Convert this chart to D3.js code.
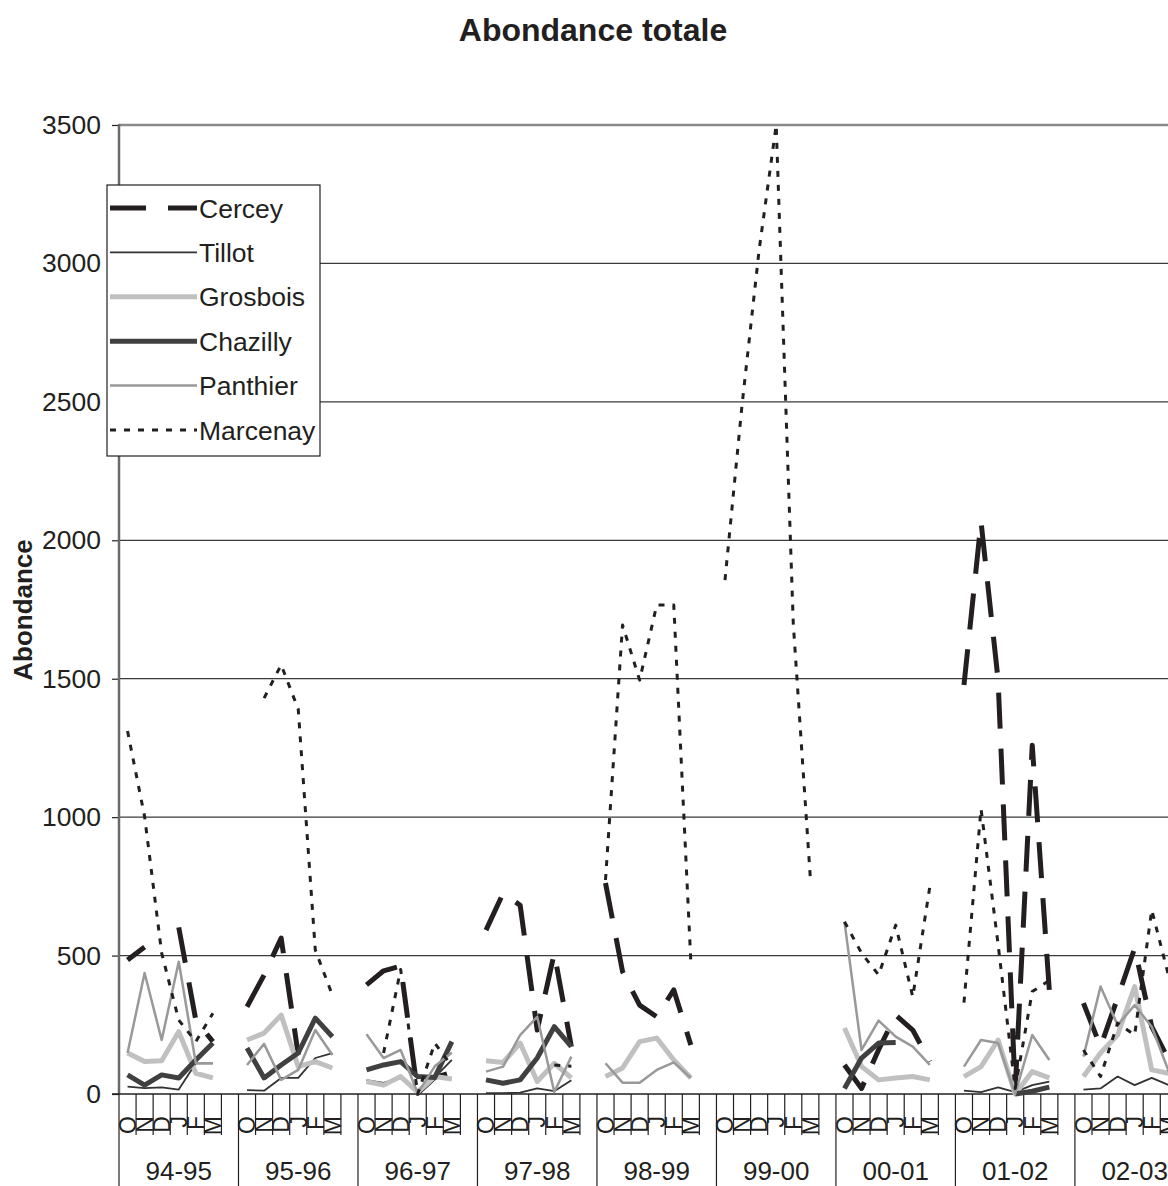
<!DOCTYPE html>
<html>
<head>
<meta charset="utf-8">
<script src="https://cdnjs.cloudflare.com/ajax/libs/d3/7.8.5/d3.min.js"></script>
<style>
  body { margin: 0; background: #fff; overflow: hidden; }
  svg { display: block; font-family: "Liberation Sans", Arial, sans-serif; }
</style>
</head>
<body>
<svg id="chart" width="1168" height="1186"></svg>
<script>
// categories
var years = ["94-95", "95-96", "96-97", "97-98", "98-99", "99-00", "00-01", "01-02", "02-03"];
var months = ["O", "N", "D", "J", "F", "M"];
var yTicks = [0, 500, 1000, 1500, 2000, 2500, 3000, 3500];

// one row per season, O N D J F M (null = no value)
var cercey = [
  [484, 531, null, 602, 267, 189],
  [315, 430, 563, 141, null, null],
  [394, 445, 462, 3, 60, 77],
  [592, 725, 682, 231, 509, 171],
  [762, 442, 321, 279, 376, 177],
  [null, null, null, null, null, null],
  [105, 20, 160, 285, 231, 117],
  [1477, 2067, 1495, 15, 1260, 375],
  [328, 171, 347, 527, 243, 123]
];
var tillot = [
  [27, 21, 24, 16, 111, 111],
  [14, 12, 58, 58, 130, 148],
  [50, 40, 60, 5, 60, 123],
  [3, 3, 5, 20, 10, 50],
  [null, null, null, null, null, null],
  [null, null, null, null, null, null],
  [null, null, null, null, null, null],
  [12, 7, 24, 7, 32, 45],
  [16, 20, 63, 32, 58, 32]
];
var grosbois = [
  [148, 117, 120, 225, 75, 58],
  [195, 220, 285, 99, 117, 94],
  [45, 32, 63, 7, 63, 54],
  [120, 114, 184, 45, 111, 58],
  [63, 94, 189, 202, 123, 58],
  [null, null, null, null, null, null],
  [238, 99, 51, 58, 63, 51],
  [63, 99, 195, 0, 81, 58],
  [63, 148, 213, 388, 87, 75]
];
var chazilly = [
  [69, 32, 69, 58, 123, 184],
  [166, 58, 105, 148, 274, 207],
  [87, 105, 117, 63, 60, 189],
  [51, 39, 51, 130, 243, 171],
  [null, null, null, null, null, null],
  [null, null, null, null, null, null],
  [20, 130, 184, 186, null, null],
  [null, null, null, 0, 10, 25],
  [null, null, null, null, null, null]
];
var panthier = [
  [148, 437, 195, 478, 111, 111],
  [105, 181, 51, 87, 231, 141],
  [216, 130, 159, 3, 100, 150],
  [81, 99, 213, 279, 7, 135],
  [111, 41, 41, 87, 114, 58],
  [null, null, null, null, null, null],
  [622, 159, 265, 207, 171, 105],
  [99, 195, 184, 0, 213, 123],
  [135, 388, 249, 321, 243, 81]
];
var marcenay = [
  [1311, 1002, 509, 267, 189, 292],
  [null, 1430, 1550, 1390, 520, 357],
  [null, 148, 450, 0, 184, 100],
  [null, null, null, null, 105, 100],
  [773, 1694, 1495, 1766, 1766, 478],
  [1856, 2489, 3049, 3500, 1700, 780],
  [622, 509, 430, 610, 351, 749],
  [330, 1030, 540, 20, 370, 410],
  [159, 63, 256, 213, 665, 424]
];

var seriesNames = ["Cercey", "Tillot", "Grosbois", "Chazilly", "Panthier", "Marcenay"];
var seriesData = [cercey, tillot, grosbois, chazilly, panthier, marcenay];

// line styles, same order as the legend
var styles = {
  "Cercey":   { color: "#231f20", width: 5,   dash: "36,20" },
  "Tillot":   { color: "#333333", width: 1.8, dash: null },
  "Grosbois": { color: "#c0c0c0", width: 5,   dash: null },
  "Chazilly": { color: "#404040", width: 5,   dash: null },
  "Panthier": { color: "#999999", width: 2.5, dash: null },
  "Marcenay": { color: "#231f20", width: 3,   dash: "6,8" }
};

var WIDTH = 1168, HEIGHT = 1186;
var LEFT = 119, TOP = 125, BOTTOM = 1094;
var SLOT = 17.07;

var svg = d3.select("#chart");

// slot list: six months and one empty slot per season
var slots = [];
years.forEach(function (yr) {
  months.forEach(function (m) { slots.push(yr + "|" + m); });
  slots.push(yr + "|");
});

var x = d3.scaleBand()
  .domain(slots)
  .range([LEFT, LEFT + slots.length * SLOT])
  .paddingInner(0)
  .paddingOuter(0);
var y = d3.scaleLinear()
  .domain([0, 3500])
  .range([BOTTOM, TOP]);

function cx(key) { return x(key) + x.bandwidth() / 2; }

// title
svg.append("text")
  .attr("x", 593)
  .attr("y", 41)
  .attr("text-anchor", "middle")
  .attr("font-weight", "bold")
  .attr("font-size", 32)
  .attr("fill", "#231f20")
  .text("Abondance totale");

// horizontal grid
svg.append("g").selectAll("line")
  .data(yTicks.filter(function (d) { return d > 0 && d < 3500; }))
  .enter().append("line")
  .attr("x1", LEFT).attr("x2", WIDTH + 40)
  .attr("y1", function (d) { return y(d); })
  .attr("y2", function (d) { return y(d); })
  .attr("stroke", "#3a3a3a")
  .attr("stroke-width", 1.2);

// top border of plot
svg.append("line")
  .attr("x1", LEFT).attr("x2", WIDTH + 40)
  .attr("y1", y(3500)).attr("y2", y(3500))
  .attr("stroke", "#8a8a8a")
  .attr("stroke-width", 2.5);

// y axis
var yAxis = svg.append("g")
  .attr("transform", "translate(" + LEFT + ",0)")
  .call(d3.axisLeft(y).tickValues(yTicks).tickFormat(d3.format("d")).tickSize(7).tickPadding(11));
yAxis.select(".domain").remove();
yAxis.selectAll(".tick line").attr("stroke", "#231f20").attr("stroke-width", 1.2);
yAxis.selectAll(".tick text")
  .attr("font-size", 26.5)
  .attr("fill", "#231f20")
  .attr("font-family", "Liberation Sans, Arial, sans-serif");

svg.append("line")
  .attr("x1", LEFT).attr("x2", LEFT)
  .attr("y1", TOP - 1).attr("y2", BOTTOM)
  .attr("stroke", "#6a6a6a")
  .attr("stroke-width", 2.5);

// y title
svg.append("text")
  .attr("transform", "translate(32,610) rotate(-90)")
  .attr("text-anchor", "middle")
  .attr("font-weight", "bold")
  .attr("font-size", 26)
  .attr("fill", "#231f20")
  .text("Abondance");

// x axis line
svg.append("line")
  .attr("x1", LEFT - 7).attr("x2", WIDTH + 40)
  .attr("y1", BOTTOM).attr("y2", BOTTOM)
  .attr("stroke", "#231f20")
  .attr("stroke-width", 1.5);

// x ticks: short ones between slots, long ones between seasons
var xg = svg.append("g");
slots.forEach(function (s) {
  var isStart = s.split("|")[1] === "O";
  xg.append("line")
    .attr("x1", x(s)).attr("x2", x(s))
    .attr("y1", BOTTOM).attr("y2", isStart ? HEIGHT : BOTTOM + 41)
    .attr("stroke", "#231f20")
    .attr("stroke-width", 1.2);
});
xg.append("line")
  .attr("x1", LEFT + slots.length * SLOT).attr("x2", LEFT + slots.length * SLOT)
  .attr("y1", BOTTOM).attr("y2", HEIGHT)
  .attr("stroke", "#231f20");

// month labels (rotated)
years.forEach(function (yr) {
  months.forEach(function (m) {
    xg.append("text")
      .attr("transform", "translate(" + cx(yr + "|" + m) + "," + (BOTTOM + 22) + ") rotate(-90)")
      .attr("text-anchor", "end")
      .attr("dy", "0.36em")
      .attr("font-size", 23)
      .attr("fill", "#231f20")
      .text(m);
  });
});

// season labels
years.forEach(function (yr) {
  var x0 = x(yr + "|O"), x1 = x(yr + "|") + x.bandwidth();
  xg.append("text")
    .attr("x", (x0 + x1) / 2)
    .attr("y", 1180)
    .attr("text-anchor", "middle")
    .attr("font-size", 26)
    .attr("fill", "#231f20")
    .text(yr);
});

// series lines
var line = d3.line()
  .defined(function (d) { return d.v != null; })
  .x(function (d) { return cx(d.key); })
  .y(function (d) { return y(d.v); });

var lines = svg.append("g");
seriesNames.forEach(function (name, si) {
  var pts = [];
  years.forEach(function (yr, yi) {
    months.forEach(function (m, mi) {
      pts.push({ key: yr + "|" + m, v: seriesData[si][yi][mi] });
    });
    pts.push({ key: yr + "|", v: null });
  });
  var st = styles[name];
  lines.append("path")
    .datum(pts)
    .attr("d", line)
    .attr("fill", "none")
    .attr("stroke", st.color)
    .attr("stroke-width", st.width)
    .attr("stroke-dasharray", st.dash)
    .attr("stroke-linejoin", "round");
});

// legend
var lg = svg.append("g");
lg.append("rect")
  .attr("x", 107).attr("y", 185)
  .attr("width", 213).attr("height", 271)
  .attr("fill", "#fff")
  .attr("stroke", "#231f20")
  .attr("stroke-width", 1.2);
seriesNames.forEach(function (name, i) {
  var st = styles[name];
  var ly = 208 + i * 44.4;
  lg.append("line")
    .attr("x1", 110).attr("x2", 197)
    .attr("y1", ly).attr("y2", ly)
    .attr("stroke", st.color)
    .attr("stroke-width", st.width)
    .attr("stroke-dasharray", name === "Cercey" ? "36,22" : st.dash);
  lg.append("text")
    .attr("x", 199)
    .attr("y", ly + 9.5)
    .attr("font-size", 26.5)
    .attr("fill", "#231f20")
    .text(name);
});
</script>
</body>
</html>
